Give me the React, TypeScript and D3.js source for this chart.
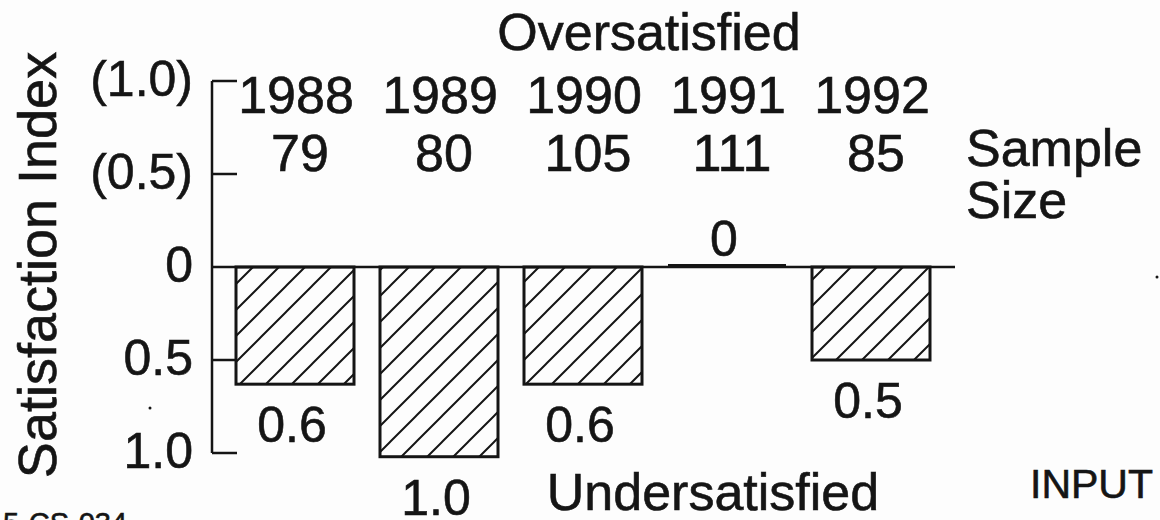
import React from "react";
import * as d3 from "d3";

const years = ["1988", "1989", "1990", "1991", "1992"];
const sampleSizes = [79, 80, 105, 111, 85];
// signed satisfaction index: positive = oversatisfied, negative = undersatisfied
const indexValues = [-0.63, -1.02, -0.63, 0, -0.5];
const valueLabels = ["0.6", "1.0", "0.6", "0", "0.5"];
const tickValues = [1, 0.5, 0, -0.5, -1];
const tickLabels = ["(1.0)", "(0.5)", "0", "0.5", "1.0"];

const W = 1160;
const H = 520;
const FONT = "'Liberation Sans', Arial, Helvetica, sans-serif";
const INK = "#151515";

export default function App() {
  const y = d3.scaleLinear().domain([-1, 1]).range([453, 81]);
  const x = d3.scalePoint<string>().domain(years).range([295, 871]);
  const barW = 118;
  const axisX = 212;
  const zeroY = y(0);
  const textStyle = { stroke: INK, strokeWidth: 0.6 };

  return (
    <svg
      width={W}
      height={H}
      viewBox={`0 0 ${W} ${H}`}
      style={{ position: "absolute", left: 0, top: 0, background: "#fdfdfd" }}
      fontFamily={FONT}
    >
      <defs>
        <pattern id="hatch" patternUnits="userSpaceOnUse" width={26} height={26}>
          <path
            d="M-2,2 L2,-2 M0,26 L26,0 M24,28 L28,24"
            stroke={INK}
            strokeWidth={2}
          />
        </pattern>
      </defs>
      <rect x={0} y={0} width={W} height={H} fill="#fdfdfd" />

      <g fill={INK} style={textStyle}>
        {/* Y axis title */}
        <text transform={`translate(56, 265) rotate(-90)`} textAnchor="middle" fontSize={54}>
          Satisfaction Index
        </text>

        {tickValues.map((v, i) => (
          <text key={"tl" + i} x={193} y={y(v) + 15} textAnchor="end" fontSize={50}>
            {tickLabels[i]}
          </text>
        ))}

        {years.map((yr, i) => {
          const v = indexValues[i];
          const cx = x(yr) as number;
          const ty = v === 0 ? zeroY - 11 : y(v) + 58;
          return (
            <text key={"vl" + i} x={cx - 3} y={ty} textAnchor="middle" fontSize={50}>
              {valueLabels[i]}
            </text>
          );
        })}

        {years.map((yr, i) => (
          <text key={"y" + i} x={(x(yr) as number) + 1} y={113} textAnchor="middle" fontSize={52}>
            {yr}
          </text>
        ))}
        {years.map((yr, i) => (
          <text key={"s" + i} x={(x(yr) as number) + 5} y={171} textAnchor="middle" fontSize={52}>
            {sampleSizes[i]}
          </text>
        ))}

        <text x={649} y={50} textAnchor="middle" fontSize={52}>
          Oversatisfied
        </text>
        <text x={966} y={166} fontSize={52}>
          Sample
        </text>
        <text x={966} y={218} fontSize={52}>
          Size
        </text>
        <text x={713} y={510} textAnchor="middle" fontSize={52}>
          Undersatisfied
        </text>
        <text x={1030} y={498} fontSize={41}>
          INPUT
        </text>
        <text x={3} y={533} fontSize={29}>
          5-CS-034
        </text>
      </g>

      {/* vertical axis */}
      <line x1={axisX} x2={axisX} y1={y(1)} y2={y(-1)} stroke={INK} strokeWidth={2.5} />
      {tickValues.map((v, i) =>
        v === 0 ? null : (
          <line
            key={"t" + i}
            x1={axisX}
            x2={axisX + 25}
            y1={y(v)}
            y2={y(v)}
            stroke={INK}
            strokeWidth={2.5}
          />
        )
      )}

      {/* bars */}
      {years.map((yr, i) => {
        const v = indexValues[i];
        const cx = x(yr) as number;
        if (v === 0) {
          return (
            <line
              key={"b" + i}
              x1={cx - barW / 2}
              x2={cx + barW / 2}
              y1={zeroY - 1}
              y2={zeroY - 1}
              stroke={INK}
              strokeWidth={4}
            />
          );
        }
        const top = Math.min(y(v), zeroY);
        const h = Math.abs(y(v) - zeroY);
        return (
          <rect
            key={"b" + i}
            x={cx - barW / 2}
            y={top}
            width={barW}
            height={h}
            fill="url(#hatch)"
            stroke={INK}
            strokeWidth={3}
          />
        );
      })}

      {/* zero line */}
      <line x1={axisX} x2={955} y1={zeroY} y2={zeroY} stroke={INK} strokeWidth={2.5} />

      <circle cx={150} cy={408} r={1.5} fill={INK} />
      <circle cx={1157} cy={277} r={1.5} fill={INK} />
    </svg>
  );
}
